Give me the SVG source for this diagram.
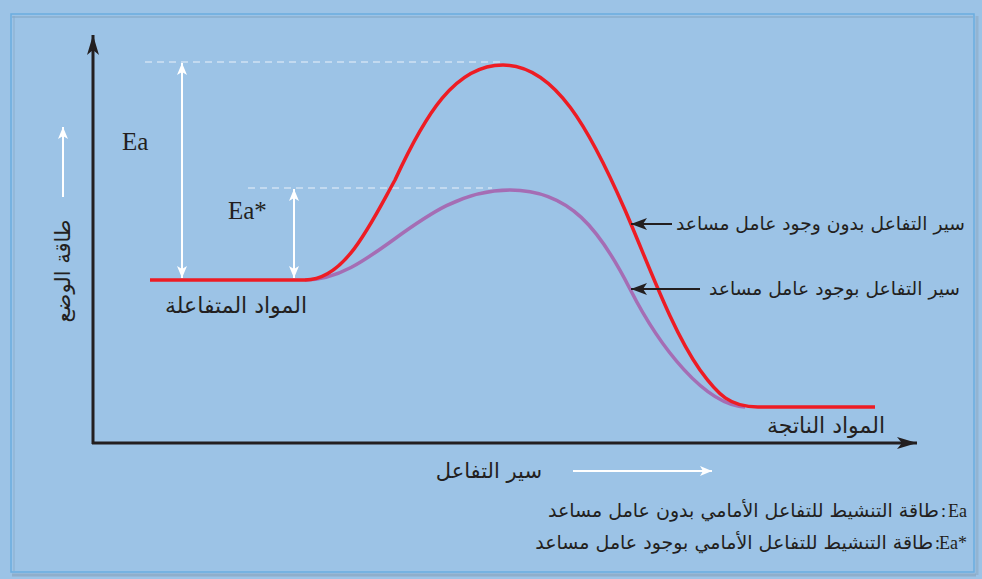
<svg xmlns="http://www.w3.org/2000/svg" width="982" height="579" viewBox="0 0 982 579">
<style>
.ar{font-family:"DejaVu Sans","Noto Sans",sans-serif;fill:#231F20;}
.lat{font-family:"Liberation Serif",serif;fill:#231F20;}
.axis{stroke:#231F20;stroke-width:3;fill:none;}
.wh{stroke:#FFFFFF;stroke-width:2;fill:none;}
.dash{stroke:#EAF2FA;stroke-width:1.2;stroke-dasharray:7,5;fill:none;}
.lead{stroke:#231F20;stroke-width:2;fill:none;}
</style>
<defs>
<marker id="ax" viewBox="0 0 20 12" refX="20" refY="6" markerWidth="20" markerHeight="12" markerUnits="userSpaceOnUse" orient="auto"><path d="M0,0 L20,6 L0,12 L5,6 Z" fill="#231F20"/></marker>
<marker id="wa" viewBox="0 0 12 10" refX="12" refY="5" markerWidth="12" markerHeight="10" markerUnits="userSpaceOnUse" orient="auto-start-reverse"><path d="M0,0 L12,5 L0,10 L3,5 Z" fill="#FFFFFF"/></marker>
<marker id="ba" viewBox="0 0 16 12" refX="16" refY="6" markerWidth="16" markerHeight="12" markerUnits="userSpaceOnUse" orient="auto"><path d="M0,0 L16,6 L0,12 L4,6 Z" fill="#231F20"/></marker>
</defs>
<rect x="0" y="0" width="982" height="579" fill="#9CC3E6"/>
<g id="frame">
<rect x="11" y="14" width="963" height="558" fill="none" stroke="#6AADDF" stroke-width="1.5"/>
<line x1="12" y1="17" x2="973" y2="17" stroke="#86A9C8" stroke-width="2" opacity="0.6"/>
<line x1="14" y1="16" x2="14" y2="571" stroke="#86A9C8" stroke-width="2" opacity="0.4"/>
<line x1="12" y1="575" x2="976" y2="575" stroke="#8AA6C0" stroke-width="3" opacity="0.7"/>
<line x1="977" y1="16" x2="977" y2="575" stroke="#8AA6C0" stroke-width="3" opacity="0.5"/>
</g>
<g id="connectors">
<line class="axis" x1="93" y1="444" x2="93" y2="35" marker-end="url(#ax)"/>
<line class="axis" x1="92" y1="443" x2="917" y2="443" marker-end="url(#ax)"/>
<line class="dash" x1="145" y1="62" x2="502" y2="62"/>
<line class="dash" x1="248" y1="188" x2="492" y2="188"/>
<line class="wh" x1="182" y1="63" x2="182" y2="278" marker-start="url(#wa)" marker-end="url(#wa)"/>
<line class="wh" x1="294" y1="189" x2="294" y2="278" marker-start="url(#wa)" marker-end="url(#wa)"/>
<line class="wh" x1="63" y1="197" x2="63" y2="127" marker-end="url(#wa)"/>
<line class="wh" x1="573" y1="471" x2="712" y2="471" marker-end="url(#wa)"/>
<path id="catalyzed" d="M305,280 C375,280 420,190 510,190 C570,190 600,230 630,289 C660,348 705,405 745,407" fill="none" stroke="#A56DB4" stroke-width="3.5"/>
<path id="uncatalyzed" d="M150,280 L305,280 C345,280 370,225 395,180 C425,115 455,65 503,65 C555,65 590,130 625,210 C650,268 672,330 700,370 C718,395 730,407 758,407 L875,407" fill="none" stroke="#ED1C24" stroke-width="3.5"/>
<line class="lead" x1="672" y1="224" x2="631" y2="224" marker-end="url(#ba)"/>
<line class="lead" x1="700" y1="289" x2="631" y2="289" marker-end="url(#ba)"/>
</g>
<g id="label-ea"><text class="lat" x="122" y="150" font-size="25">Ea</text></g>
<g id="label-ea-star"><text class="lat" x="228" y="219" font-size="25">Ea*</text></g>
<g id="label-energy"><text class="ar" x="0" y="0" font-size="21" text-anchor="middle" transform="translate(70,271) rotate(-90)">طاقة الوضع</text></g>
<g id="label-reactants"><text class="ar" x="307" y="313" font-size="22" text-anchor="end">المواد المتفاعلة</text></g>
<g id="label-products"><text class="ar" x="885" y="433" font-size="22" text-anchor="end">المواد الناتجة</text></g>
<g id="label-progress"><text class="ar" x="542" y="478" font-size="21" text-anchor="end">سير التفاعل</text></g>
<g id="label-uncat"><text class="ar" x="965" y="230" font-size="18.7" text-anchor="end">سير التفاعل بدون وجود عامل مساعد</text></g>
<g id="label-cat"><text class="ar" x="960" y="295" font-size="18.7" text-anchor="end">سير التفاعل بوجود عامل مساعد</text></g>
<g id="legend">
<text class="lat" x="967" y="517" font-size="18" text-anchor="end">Ea</text>
<text class="lat" x="946" y="517" font-size="18" text-anchor="end">:</text>
<text class="ar" x="939" y="517" font-size="19" text-anchor="end">طاقة التنشيط للتفاعل الأمامي بدون عامل مساعد</text>
<text class="lat" x="967" y="549" font-size="18" text-anchor="end">Ea*</text>
<text class="lat" x="940" y="549" font-size="18" text-anchor="end">:</text>
<text class="ar" x="933" y="549" font-size="19" text-anchor="end">طاقة التنشيط للتفاعل الأمامي بوجود عامل مساعد</text>
</g>
</svg>
